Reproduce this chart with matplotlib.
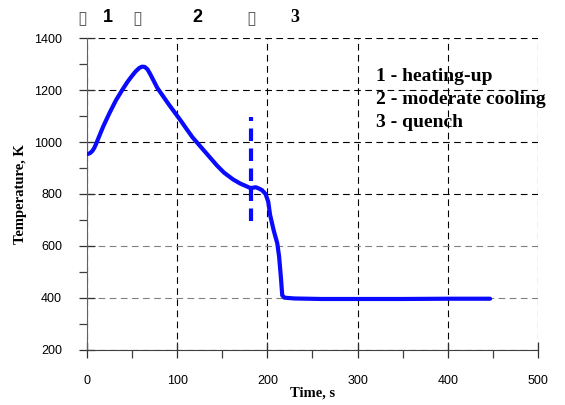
import matplotlib
matplotlib.use('Agg')
from matplotlib import pyplot as plt
from matplotlib.ticker import MultipleLocator

# temperature history
time_s = [0, 2, 4, 6, 8, 10, 13, 18, 25, 32, 39, 45, 50, 54, 58, 61, 64, 67,
          70, 74, 78, 84, 90, 97, 104, 110, 117, 124, 130, 137, 144, 152, 162,
          170, 176, 181, 184, 187, 190, 194, 198, 201, 203, 207, 211, 213, 215,
          216.5, 219, 230, 260, 300, 350, 400, 447]
temp_k = [954, 955, 959, 966, 977, 992, 1018, 1060, 1112, 1160, 1200, 1232,
          1255, 1272, 1285, 1290, 1289, 1280, 1262, 1235, 1208, 1178, 1148,
          1115, 1082, 1052, 1018, 990, 966, 938, 910, 882, 856, 840, 831, 823,
          824, 826, 822, 815, 800, 770, 720, 660, 610, 560, 480, 410, 401, 398,
          396, 396, 396, 397, 397]

# dashed marker at start of quench
marker_t = [182, 182]
marker_T = [697, 1095]

phase_labels = ['1', '2', '3']
phase_t = [23, 122, 231]
box_t = [-5.5, 55.5, 182]
legend_lines = ['1 - heating-up', '2 - moderate cooling', '3 - quench']
legend_T = [1254, 1165, 1077]


def figure(fig_name='out.png'):
    fig = plt.figure(figsize=(5.65, 4.05), dpi=100)
    ax = fig.add_axes([0.154, 0.136, 0.798, 0.770])

    ax.plot(time_s, temp_k, color='#0a0aff', lw=3, solid_capstyle='round',
            solid_joinstyle='round', zorder=3)
    ax.plot(marker_t, marker_T, color='#0a0aff', lw=3, dashes=(3, 1.8),
            zorder=3)

    ax.set_xlim(0, 500)
    ax.set_ylim(200, 1400)
    ax.xaxis.set_major_locator(MultipleLocator(100))
    ax.xaxis.set_minor_locator(MultipleLocator(50))
    ax.yaxis.set_major_locator(MultipleLocator(200))
    ax.yaxis.set_minor_locator(MultipleLocator(100))

    for s in ['top', 'right']:
        ax.spines[s].set_visible(False)
    ax.spines['left'].set_color('#606060')
    ax.spines['bottom'].set_color('#404040')

    ax.grid(True, which='major', color='black', lw=0.8, dashes=(6, 4))
    for gl, v in zip(ax.get_ygridlines(), ax.get_yticks()):
        if v in (400, 600):
            gl.set_color('#808080')

    ax.tick_params(axis='both', which='major', direction='inout', length=12,
                   width=0.9, color='#303030', labelsize=9)
    ax.tick_params(axis='y', which='major', pad=12)
    ax.tick_params(axis='x', which='major', pad=12)
    ax.tick_params(axis='both', which='minor', direction='out', length=6,
                   width=0.9, color='#404040')
    for lab in ax.get_xticklabels() + ax.get_yticklabels():
        lab.set_family('Liberation Sans')

    ax.set_xlabel('Time, s', family='Liberation Serif', weight='bold',
                  fontsize=10.5, labelpad=0)
    ax.set_ylabel('Temperature, K', family='Liberation Serif', weight='bold',
                  fontsize=10.5, labelpad=5)

    # phase numbers above the plot
    for lab, t in zip(phase_labels, phase_t):
        fam = 'Liberation Serif' if lab == '3' else 'Liberation Sans'
        ax.text(t, 1481, lab, family=fam, weight='bold', fontsize=13,
                ha='center', va='center', clip_on=False)
    # unreadable symbols next to the phase numbers
    for t in box_t:
        ax.text(t, 1475, '\u25af', family='DejaVu Sans', fontsize=13,
                color='#606060', ha='center', va='center', clip_on=False)

    for txt, T in zip(legend_lines, legend_T):
        ax.text(320, T, txt, family='Liberation Serif', weight='bold',
                fontsize=14, ha='left', va='center')

    fig.savefig(fig_name, dpi=100)


if __name__ == '__main__':
    figure()
